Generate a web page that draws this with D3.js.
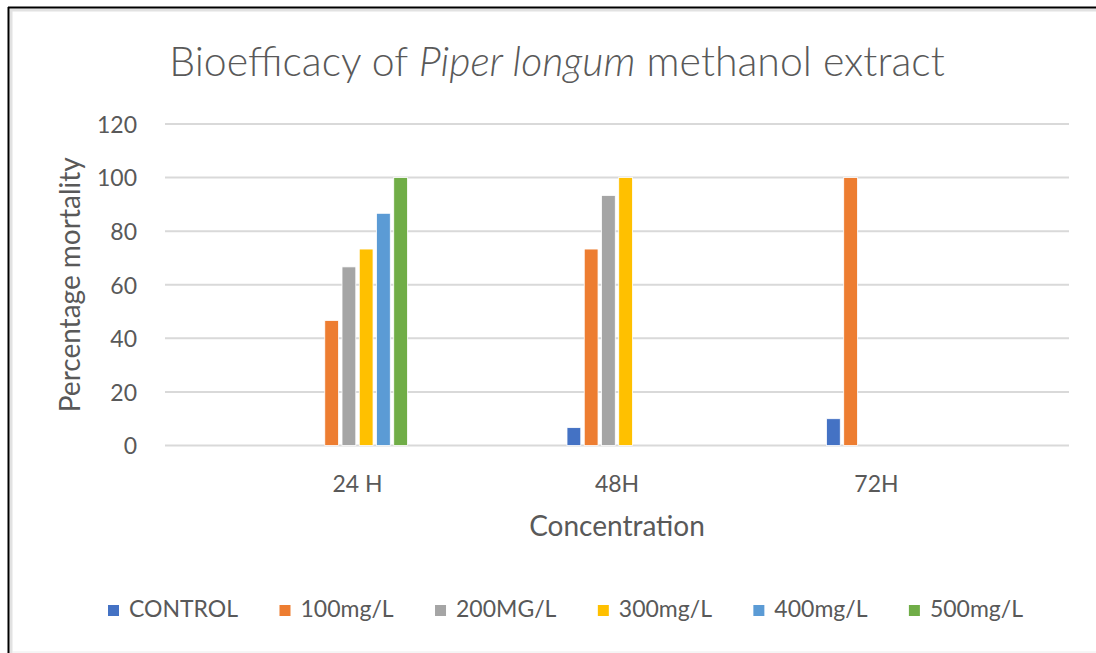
<!DOCTYPE html>
<html>
<head>
<meta charset="utf-8">
<script src="https://cdn.jsdelivr.net/npm/d3@7"></script>
<style>
  html, body { margin: 0; padding: 0; background: #fff; }
  svg { display: block; }
  text { font-family: Lato, "Open Sans", sans-serif; fill: #595959; }
</style>
</head>
<body>
<svg id="chart" width="1096" height="653"></svg>
<script>
const categories = ["24 H", "48H", "72H"];
const seriesNames = ["CONTROL", "100mg/L", "200MG/L", "300mg/L", "400mg/L", "500mg/L"];
const seriesColors = ["#4472C4", "#ED7D31", "#A5A5A5", "#FFC000", "#5B9BD5", "#70AD47"];
const control = [0, 6.67, 10];
const mg100 = [46.67, 73.33, 100];
const mg200 = [66.67, 93.33, 0];
const mg300 = [73.33, 100, 0];
const mg400 = [86.67, 0, 0];
const mg500 = [100, 0, 0];
const yTicks = [0, 20, 40, 60, 80, 100, 120];

const seriesValues = [control, mg100, mg200, mg300, mg400, mg500];

const svg = d3.select("#chart");

// frame
svg.append("rect").attr("x", 0).attr("y", 0).attr("width", 1096).attr("height", 653).attr("fill", "#fff");
svg.append("line").attr("x1", 10).attr("x2", 1096).attr("y1", 10).attr("y2", 10).attr("stroke", "#e2e2e2").attr("stroke-width", 3);
svg.append("line").attr("x1", 11).attr("x2", 11).attr("y1", 10).attr("y2", 653).attr("stroke", "#e2e2e2").attr("stroke-width", 3);
svg.append("line").attr("x1", 8).attr("x2", 1096).attr("y1", 7.5).attr("y2", 7.5).attr("stroke", "#000").attr("stroke-width", 2);
svg.append("line").attr("x1", 8.5).attr("x2", 8.5).attr("y1", 7).attr("y2", 653).attr("stroke", "#000").attr("stroke-width", 2);
svg.append("line").attr("x1", 12).attr("x2", 1096).attr("y1", 652).attr("y2", 652).attr("stroke", "#ececec").attr("stroke-width", 1);

const plotLeft = 165, plotRight = 1069, plotTop = 124, plotBottom = 445.5;

const x0 = d3.scaleBand().domain(categories).range([plotLeft, plotRight]).paddingInner(0).paddingOuter(0.242);
const groupW = 100;
const x1 = d3.scaleBand().domain(seriesNames).range([-groupW / 2, groupW / 2]).paddingInner(0.2).paddingOuter(0);
const y = d3.scaleLinear().domain([0, 120]).range([plotBottom, plotTop]);

// gridlines
svg.append("g").selectAll("line").data(yTicks).join("line")
  .attr("x1", plotLeft).attr("x2", plotRight)
  .attr("y1", d => y(d)).attr("y2", d => y(d))
  .attr("stroke", "#d9d9d9").attr("stroke-width", 2);

// y axis labels
const yAxis = d3.axisLeft(y).tickValues(yTicks).tickSize(0).tickPadding(0);
const gy = svg.append("g").attr("transform", `translate(137,0)`).call(yAxis);
gy.select(".domain").remove();
gy.selectAll("text").style("font-size", "23px").style("font-family", "Lato, sans-serif").attr("fill", "#595959").attr("dy", "0.36em");

// x axis labels
const xAxis = d3.axisBottom(x0).tickSize(0).tickPadding(0);
const gx = svg.append("g").attr("transform", `translate(0,476)`).call(xAxis);
gx.select(".domain").remove();
gx.selectAll("text").style("font-size", "23px").style("font-family", "Lato, sans-serif").attr("fill", "#595959").attr("dy", "0.71em");

// bars
const groups = svg.append("g").selectAll("g").data(categories).join("g")
  .attr("transform", d => `translate(${x0(d) + x0.bandwidth() / 2},0)`);
groups.selectAll("rect")
  .data((c, ci) => seriesNames.map((s, si) => ({ s, si, v: seriesValues[si][ci] })).filter(d => d.v > 0))
  .join("rect")
  .attr("x", d => x1(d.s))
  .attr("width", x1.bandwidth())
  .attr("y", d => y(d.v))
  .attr("height", d => plotBottom - y(d.v))
  .attr("fill", d => seriesColors[d.si])
  .attr("stroke", "#fff").attr("stroke-width", 0.8);

// title
const title = svg.append("text").attr("x", 557).attr("y", 76).attr("text-anchor", "middle")
  .style("font-size", "41px").style("font-weight", "300");
title.append("tspan").text("Bioefficacy of ");
title.append("tspan").style("font-style", "italic").text("Piper longum");
title.append("tspan").text(" methanol extract");

// axis titles
svg.append("text").attr("transform", `translate(80,${(plotTop + plotBottom) / 2}) rotate(-90)`)
  .attr("text-anchor", "middle").style("font-size", "28px").text("Percentage mortality");
svg.append("text").attr("x", 617).attr("y", 536).attr("text-anchor", "middle")
  .style("font-size", "28px").text("Concentration");

// legend
const legend = svg.append("g");
const items = legend.selectAll("g").data(seriesNames).join("g");
items.append("rect").attr("width", 11).attr("height", 11).attr("y", -12)
  .attr("fill", (d, i) => seriesColors[i]);
items.append("text").attr("x", 21).attr("y", 0).style("font-size", "23px").text(d => d);
const widths = [];
items.each(function () { widths.push(d3.select(this).select("text").node().getComputedTextLength()); });
const legendLeft = 108, legendRight = 1023;
const sumW = d3.sum(widths) + 21 * widths.length;
const gap = (legendRight - legendLeft - sumW) / (widths.length - 1);
const pos = [];
let cx = legendLeft;
widths.forEach(w => { pos.push(cx); cx += 21 + w + gap; });
items.attr("transform", (d, i) => `translate(${pos[i]},617)`);
</script>
</body>
</html>
